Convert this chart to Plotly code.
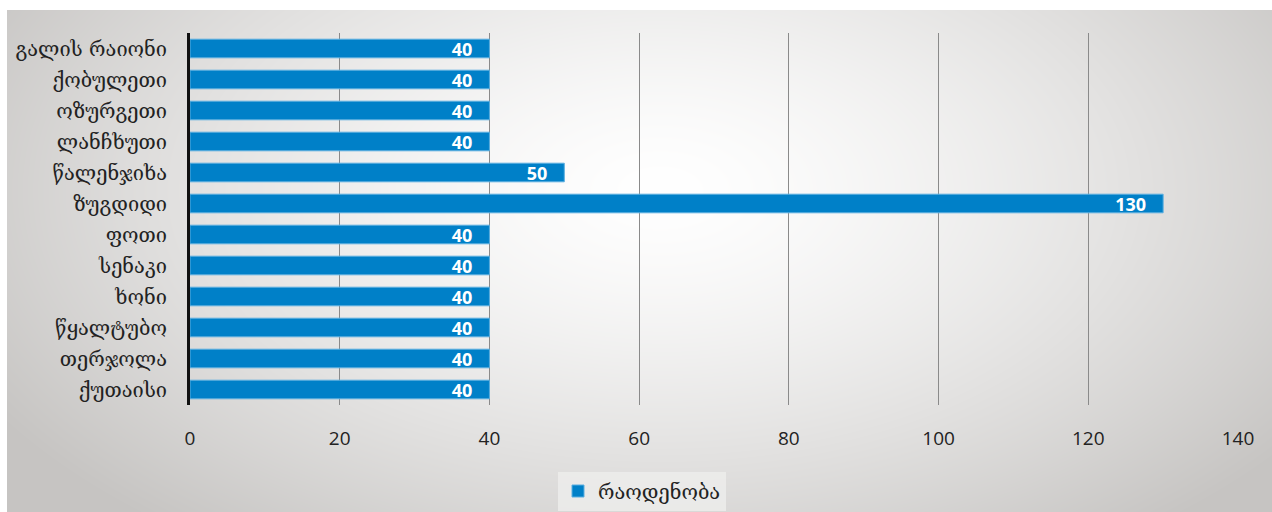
import base64
import struct
import zlib

import numpy as np
import plotly.graph_objects as go

# Data
districts = [
    "გალის რაიონი", "ქობულეთი", "ოზურგეთი", "ლანჩხუთი", "წალენჯიხა", "ზუგდიდი",
    "ფოთი", "სენაკი", "ხონი", "წყალტუბო", "თერჯოლა", "ქუთაისი",
]
counts = [40, 40, 40, 40, 50, 130, 40, 40, 40, 40, 40, 40]
series_name = "რაოდენობა"
x_ticks = [0, 20, 40, 60, 80, 100, 120, 140]

W, H = 1272, 512
ML, MR, MT, MB = 190, 34, 33, 107


def png_data_uri(rgb):
    h, w, _ = rgb.shape
    raw = b"".join(b"\x00" + rgb[r].tobytes() for r in range(h))

    def chunk(tag, data):
        c = struct.pack(">I", len(data)) + tag + data
        return c + struct.pack(">I", zlib.crc32(tag + data) & 0xFFFFFFFF)

    png = b"\x89PNG\r\n\x1a\n"
    png += chunk(b"IHDR", struct.pack(">IIBBBBB", w, h, 8, 2, 0, 0, 0))
    png += chunk(b"IDAT", zlib.compress(raw, 9))
    png += chunk(b"IEND", b"")
    return "data:image/png;base64," + base64.b64encode(png).decode()


# Radial backdrop: white centre fading to warm grey at the edges
bx0, by0, bx1, by1 = 7, 10, W, H
bw, bh = bx1 - bx0, by1 - by0
yy, xx = np.mgrid[0:bh, 0:bw].astype(float)
cx, cy, rx, ry = 660 - bx0, 190 - by0, 780.0, 440.0
d = np.sqrt(((xx - cx) / rx) ** 2 + ((yy - cy) / ry) ** 2)
t = np.clip(d, 0, 1) ** 1.4
edge = np.array([198, 196, 194], float)
white = np.array([255, 255, 255], float)
img = (white[None, None, :] * (1 - t[..., None]) + edge[None, None, :] * t[..., None])
img = np.clip(img, 0, 255).astype(np.uint8)
bg_src = png_data_uri(img)

pw, ph = W - ML - MR, H - MT - MB

fig = go.Figure(
    go.Bar(
        x=counts,
        y=districts,
        orientation="h",
        name=series_name,
        marker=dict(color="#0080c8", line=dict(color="#5aaee0", width=1)),
        text=counts,
        texttemplate="%{text}\u00a0\u00a0\u00a0",
        textposition="inside",
        insidetextanchor="end",
        textangle=0,
        constraintext="none",
        textfont=dict(family="Open Sans", size=18, color="white", weight="bold"),
        width=0.6,
        showlegend=True,
    )
)

fig.update_layout(
    width=W,
    height=H,
    margin=dict(l=ML, r=MR, t=MT, b=MB, autoexpand=False),
    paper_bgcolor="white",
    plot_bgcolor="rgba(0,0,0,0)",
    images=[
        dict(
            source=bg_src,
            xref="paper", yref="paper",
            x=(bx0 - ML) / pw, y=(H - MB - by0) / ph,
            sizex=bw / pw, sizey=bh / ph,
            xanchor="left", yanchor="top",
            sizing="stretch", layer="below",
        )
    ],
    xaxis=dict(
        range=[0, 140],
        tickvals=x_ticks,
        showgrid=True,
        gridcolor="#8a8a8a",
        gridwidth=1,
        zeroline=False,
        showline=False,
        ticks="",
        ticklabelstandoff=20,
        automargin=False,
        tickfont=dict(family="Open Sans", size=19, color="#222"),
    ),
    yaxis=dict(
        categoryorder="array",
        categoryarray=districts,
        autorange="reversed",
        showgrid=False,
        showline=True,
        linecolor="#111",
        linewidth=3,
        ticks="",
        ticklabelstandoff=16,
        automargin=False,
        tickfont=dict(family="DejaVu Serif", size=20, color="#222"),
    ),
    legend=dict(
        orientation="h",
        x=(642 - ML) / pw, xanchor="center",
        y=-(491 - (H - MB)) / ph, yanchor="middle",
        bgcolor="rgba(238,238,236,0.8)",
        font=dict(family="DejaVu Serif", size=20, color="#222"),
        borderwidth=0,
    ),
    bargap=0.4,
)

fig.write_html("out.html")
